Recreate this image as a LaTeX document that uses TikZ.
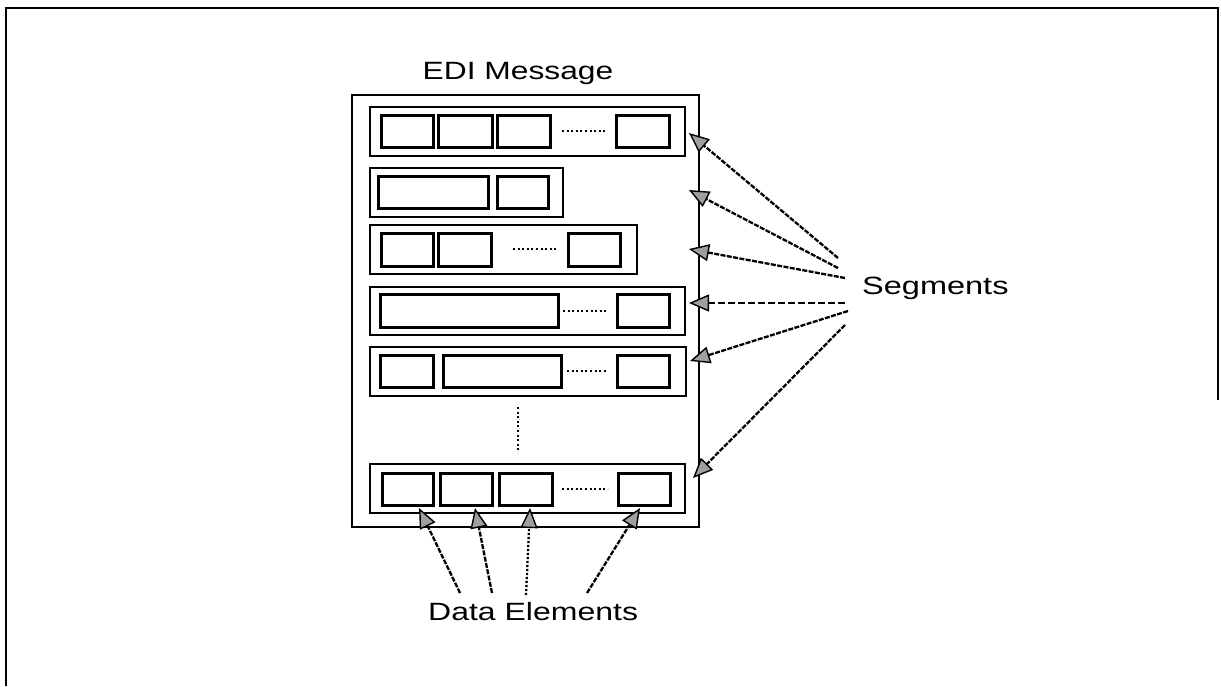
\documentclass[tikz,border=0pt]{standalone}
\usepackage{fontspec}
\setmainfont{Liberation Sans}
\usetikzlibrary{arrows.meta}
% box node given by its top-left and bottom-right corners
\newcommand\rectnode[6]{\node[#1, anchor=north west,
  minimum width={(#5-#3)*1pt}, minimum height={(#6-#4)*1pt}] (#2) at (#3,#4) {};}
\begin{document}
\begin{tikzpicture}[x=1pt,y=-1pt,
  frameline/.style={line width=2.6pt},
  msgbox/.style={draw, line width=2.4pt, inner sep=0pt, outer sep=0pt},
  segbox/.style={draw, line width=2.6pt, inner sep=0pt, outer sep=0pt},
  elembox/.style={draw, line width=3pt, inner sep=0pt, outer sep=0pt},
  gap/.style={line width=2.4pt, dash pattern=on 2pt off 2.6pt},
  ptr/.style={line width=2.3pt, dash pattern=on 5pt off 1.4pt,
    -{Triangle[length=20pt,width=17pt,fill=gray!75,line width=1.4pt]}},
  ptrlong/.style={ptr, dash pattern=on 7pt off 3pt},
  lbl/.style={font=\fontsize{25}{30}\selectfont, inner sep=0pt}]
\useasboundingbox (0,0) rectangle (1221,686);

% open frame
\draw[frameline] (6,686) -- (6,8) -- (1218,8) -- (1218,400);

% message
\rectnode{msgbox}{msg}{352}{95}{699}{527}
\node[lbl, anchor=base] (title) at (518,79) {\scalebox{1.27}[1]{EDI Message}};

% segment 1
\rectnode{segbox}{r1}{370}{107}{685}{156}
\rectnode{elembox}{e11}{381}{115}{433}{147}
\rectnode{elembox}{e12}{438}{115}{492}{147}
\rectnode{elembox}{e13}{497}{115}{550}{147}
\rectnode{elembox}{e14}{616}{115}{669}{147}
\draw[gap] (562,131) -- (607,131);

% segment 2
\rectnode{segbox}{r2}{370}{168}{563}{217}
\rectnode{elembox}{e21}{378}{176}{488}{208}
\rectnode{elembox}{e22}{497}{176}{548}{208}

% segment 3
\rectnode{segbox}{r3}{370}{225}{637}{274}
\rectnode{elembox}{e31}{381}{233}{433}{266}
\rectnode{elembox}{e32}{438}{233}{491}{266}
\rectnode{elembox}{e33}{568}{233}{620}{266}
\draw[gap] (513,249) -- (558,249);

% segment 4
\rectnode{segbox}{r4}{370}{287}{685}{335}
\rectnode{elembox}{e41}{380}{294}{558}{327}
\rectnode{elembox}{e42}{617}{294}{669}{327}
\draw[gap] (563,311) -- (607,311);

% segment 5
\rectnode{segbox}{r5}{370}{347}{686}{396}
\rectnode{elembox}{e51}{380}{355}{433}{387}
\rectnode{elembox}{e52}{443}{355}{561}{387}
\rectnode{elembox}{e53}{617}{355}{669}{387}
\draw[gap] (567,371) -- (608,371);

% more segments
\draw[gap] (518,407) -- (518,453);

% last segment
\rectnode{segbox}{r6}{370}{464}{685}{513}
\rectnode{elembox}{e61}{382}{473}{433}{505}
\rectnode{elembox}{e62}{440}{473}{492}{505}
\rectnode{elembox}{e63}{499}{473}{552}{505}
\rectnode{elembox}{e64}{618}{473}{670}{505}
\draw[gap] (562,489) -- (608,489);

% labels
\node[lbl, anchor=base west] (seglbl) at (862,294) {\scalebox{1.3}[1]{Segments}};
\node[lbl, anchor=base west] (delbl) at (428,620) {\scalebox{1.28}[1]{Data Elements}};

% pointers to the segments
\coordinate (t1) at (689,133);
\coordinate (t2) at (689,190);
\coordinate (t3) at (689,249);
\coordinate (t4) at (689,303);
\coordinate (t5) at (690,361);
\coordinate (t6) at (693,478);
\coordinate (s1) at (838,258);
\coordinate (s2) at (838,268);
\coordinate (s3) at (845,278);
\coordinate (s4) at (845,303);
\coordinate (s5) at (848,311);
\coordinate (s6) at (845,325);
\draw[ptr] (s1) -- (t1);
\draw[ptr] (s2) -- (t2);
\draw[ptr] (s3) -- (t3);
\draw[ptrlong] (s4) -- (t4);
\draw[ptr] (s5) -- (t5);
\draw[ptr] (s6) -- (t6);

% pointers to the data elements
\coordinate (u1) at (419,508);
\coordinate (u2) at (475,508);
\coordinate (u3) at (530,508);
\coordinate (u4) at (640,508);
\coordinate (v1) at (460,593);
\coordinate (v2) at (492,593);
\coordinate (v3) at (526,595);
\coordinate (v4) at (587,593);
\draw[ptr] (v1) -- (u1);
\draw[ptr] (v2) -- (u2);
\draw[ptr, dash pattern=on 2.2pt off 1.8pt] (v3) -- (u3);
\draw[ptr] (v4) -- (u4);
\end{tikzpicture}
\end{document}
